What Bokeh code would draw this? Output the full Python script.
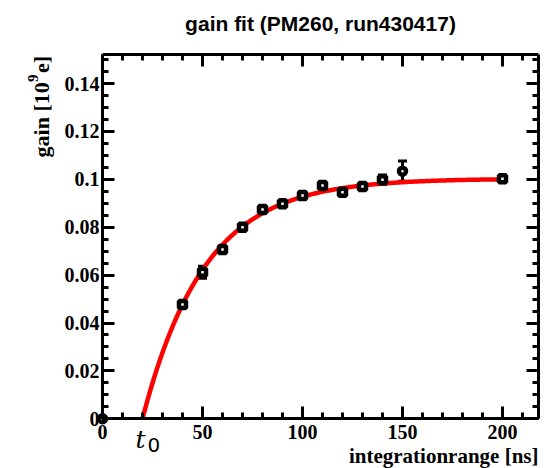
import numpy as np
from bokeh.plotting import figure
from bokeh.models import (LinearAxis, SingleIntervalTicker, CustomJSTickFormatter,
                          Whisker, TeeHead, ColumnDataSource, Label, Range1d)
from bokeh.embed import file_html
from bokeh.resources import INLINE

# ---- texts ----
title_text = "gain fit (PM260, run430417)"
x_title = "integrationrange [ns]"
y_title_parts = ["gain [10", "9", "e]"]   # "gain [10^9 e]"
t0_main = "t"
t0_sub = "0"

# ---- data ----
x_sq = [40, 50, 60, 70, 80, 90, 100, 110, 120, 130, 140, 200]
y_sq = [0.0477, 0.0612, 0.0707, 0.0800, 0.0874, 0.0898, 0.0932, 0.0974,
        0.0946, 0.0970, 0.0998, 0.1002]
e_sq = [0.0008, 0.0025, 0.0010, 0.0012, 0.0008, 0.0008, 0.0015, 0.0010,
        0.0010, 0.0010, 0.0020, 0.0012]

x_ci = [0, 150]
y_ci = [0.0, 0.1034]
e_ci = [0.0, 0.0042]

# fit parameters: gain = amp * (1 - exp(-(t - t0)/tau))
fit_amp = 0.1003
fit_t0 = 20.0
fit_tau = 31.0
fit_end = 200.0

# axis box
x_lo, x_hi = 0, 218
y_lo, y_hi = 0, 0.152

# the frame covers the whole canvas; the axes are drawn at fixed places inside it
W, H = 544, 468
box_left, box_bottom = 102, 418.3   # px of (x_lo, y_lo)
px_x = 2.0                          # px per ns
px_y = 2395.0                       # px per gain unit
view_x = (x_lo - box_left / px_x, x_lo + (W - box_left) / px_x)
view_y = (y_lo - (H - box_bottom) / px_y, y_lo + box_bottom / px_y)

SERIF = "Liberation Serif"

p = figure(width=W, height=H, x_range=Range1d(*view_x), y_range=Range1d(*view_y),
           output_backend="svg", toolbar_location=None,
           min_border_left=0, min_border_right=0, min_border_top=0, min_border_bottom=0)
p.grid.visible = False
p.background_fill_color = "white"
p.border_fill_color = "white"
p.outline_line_color = None


def style_axis(ax, labels=True):
    ax.axis_line_width = 3
    ax.axis_line_color = "black"
    ax.major_tick_in = 12
    ax.major_tick_out = 0
    ax.minor_tick_in = 6
    ax.minor_tick_out = 0
    ax.major_tick_line_width = 3
    ax.minor_tick_line_width = 3
    ax.major_tick_line_color = "black"
    ax.minor_tick_line_color = "black"
    ax.major_label_text_font = SERIF
    ax.major_label_text_font_style = "bold"
    ax.major_label_text_font_size = "20px"
    ax.major_label_text_color = "black"
    if not labels:
        ax.formatter = CustomJSTickFormatter(code="return '';")


yfmt_code = "return String(Math.round(tick*1000)/1000);"

xb = p.xaxis[0]
xb.ticker = SingleIntervalTicker(interval=50, num_minor_ticks=5)
style_axis(xb)
xb.major_label_standoff = 6
xb.fixed_location = y_lo
xb.bounds = (x_lo, x_hi)

yl = p.yaxis[0]
yl.ticker = SingleIntervalTicker(interval=0.02, num_minor_ticks=4)
style_axis(yl)
yl.formatter = CustomJSTickFormatter(code=yfmt_code)
yl.major_label_standoff = 3
yl.fixed_location = x_lo
yl.bounds = (y_lo, y_hi)

xt = LinearAxis(ticker=SingleIntervalTicker(interval=50, num_minor_ticks=5))
style_axis(xt, labels=False)
xt.fixed_location = y_hi
xt.bounds = (x_lo, x_hi)
p.add_layout(xt, "above")

yr = LinearAxis(ticker=SingleIntervalTicker(interval=0.02, num_minor_ticks=4))
style_axis(yr, labels=False)
yr.fixed_location = x_hi
yr.bounds = (y_lo, y_hi)
p.add_layout(yr, "right")

# fit curve
t = np.linspace(fit_t0, fit_end, 300)
g = fit_amp * (1.0 - np.exp(-(t - fit_t0) / fit_tau))
p.line(t, g, line_color="red", line_width=4.5)

# error bars
for xs, ys, es in ((x_sq, y_sq, e_sq), (x_ci, y_ci, e_ci)):
    src = ColumnDataSource(dict(x=xs, upper=[a + b for a, b in zip(ys, es)],
                                lower=[a - b for a, b in zip(ys, es)]))
    w = Whisker(source=src, base="x", upper="upper", lower="lower", dimension="height",
                line_color="black", line_width=3,
                upper_head=TeeHead(size=9, line_width=3, line_color="black"),
                lower_head=TeeHead(size=9, line_width=3, line_color="black"))
    p.add_layout(w)

p.scatter(x_sq, y_sq, marker="square", size=7, line_width=4.5, line_color="black",
          fill_color="white")
p.scatter(x_ci, y_ci, marker="circle", size=7, line_width=4.5, line_color="black",
          fill_color="white")


def lab(**kw):
    base = dict(text_baseline="alphabetic", text_color="black")
    base.update(kw)
    p.add_layout(Label(**base))


# title
lab(x=(x_lo + x_hi) / 2, y=y_hi, y_offset=31, text=title_text, text_align="center",
    text_font="Liberation Sans", text_font_style="bold", text_font_size="21px")
# x axis title, right aligned at the end of the axis
lab(x=x_hi, y=y_lo, y_offset=-37, text=x_title, text_align="right",
    text_font=SERIF, text_font_style="bold", text_font_size="21px")
# y axis title, rotated, ending at the top of the axis
y_start = -102.7
lab(x=x_lo, y=y_hi, x_offset=-61, y_offset=y_start, text=y_title_parts[0], angle=90,
    angle_units="deg", text_align="left", text_font=SERIF, text_font_style="bold",
    text_font_size="22px")
lab(x=x_lo, y=y_hi, x_offset=-70, y_offset=y_start + 75.5, text=y_title_parts[1], angle=90,
    angle_units="deg", text_align="left", text_font=SERIF, text_font_style="bold",
    text_font_size="15px")
lab(x=x_lo, y=y_hi, x_offset=-61, y_offset=y_start + 84.5, text=y_title_parts[2], angle=90,
    angle_units="deg", text_align="left", text_font=SERIF, text_font_style="bold",
    text_font_size="22px")
# t0 mark below the axis
lab(x=fit_t0, y=y_lo, x_offset=-7, y_offset=-21, text=t0_main, text_align="left",
    text_font="DejaVu Serif", text_font_style="italic", text_font_size="25px")
lab(x=fit_t0, y=y_lo, x_offset=5, y_offset=-26, text=t0_sub, text_align="left",
    text_font="DejaVu Sans", text_font_size="20px")

open("out.html", "w").write(file_html(p, INLINE))
